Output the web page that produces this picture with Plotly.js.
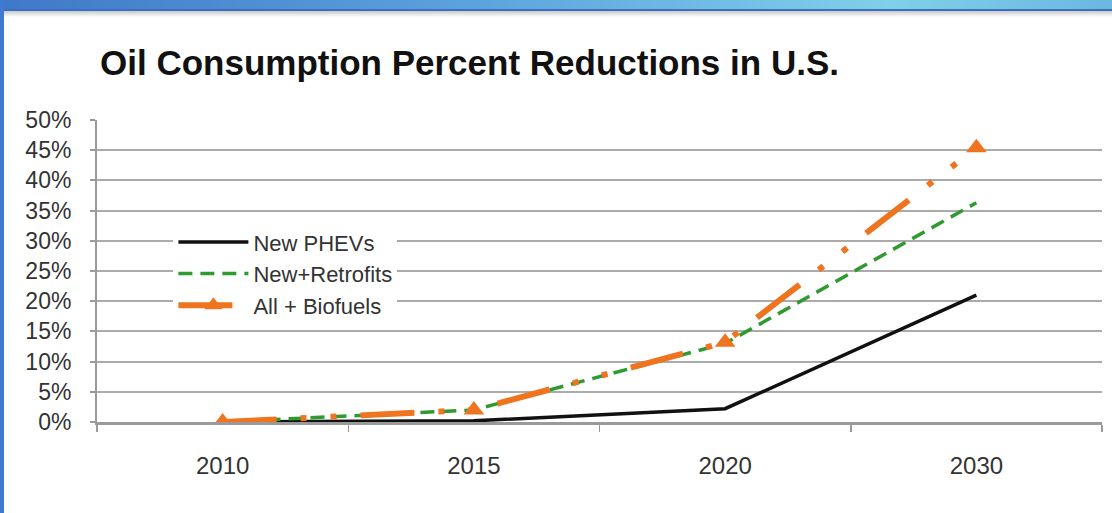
<!DOCTYPE html>
<html>
<head>
<meta charset="utf-8">
<script src="https://cdn.plot.ly/plotly-3.0.1.min.js"></script>
<style>
  html, body { margin: 0; padding: 0; background: #ffffff; }
  #wrap { position: relative; width: 1112px; height: 513px; overflow: hidden; }
  #chart { position: absolute; left: 0; top: 0; width: 1112px; height: 513px; }
  #topbar { position: absolute; left: 0; top: 0; width: 1112px; height: 9px;
            background: linear-gradient(to right, #3f78c8 0%, #5aa0dc 40%, #7fd0ea 80%, #6ab8e0 100%);
            border-bottom: 2px solid #3a6fc0; pointer-events: none; }
  #topshadow { position: absolute; left: 0; top: 11px; width: 1112px; height: 6px;
            background: linear-gradient(to bottom, #c8c8c8, rgba(255,255,255,0)); pointer-events: none; }
  #leftbar { position: absolute; left: 0; top: 0; width: 4px; height: 513px;
            background: #3f7ad0; pointer-events: none; }
</style>
</head>
<body>
<div id="wrap">
  <div id="chart"></div>
  <div id="topshadow"></div>
  <div id="topbar"></div>
  <div id="leftbar"></div>
</div>
<script>
const years = ["2010", "2015", "2020", "2030"];
const newPHEVs = [0, 0.002, 0.022, 0.21];
const newRetrofits = [0, 0.02, 0.13, 0.363];
const allBiofuels = [0, 0.02, 0.132, 0.454];
const seriesNames = ["New PHEVs", "New+Retrofits", "All + Biofuels"];
const yTicks = [0, 0.05, 0.10, 0.15, 0.20, 0.25, 0.30, 0.35, 0.40, 0.45, 0.50];

const font = "Liberation Sans, Arial, sans-serif";

const traces = [
  {
    x: years, y: newPHEVs, name: seriesNames[0], type: "scatter", mode: "lines",
    line: { color: "#111111", width: 3.5 }
  },
  {
    x: years, y: newRetrofits, name: seriesNames[1], type: "scatter", mode: "lines",
    line: { color: "#2f9a2f", width: 3.5, dash: "14px,8px" }
  },
  {
    x: years, y: allBiofuels, name: seriesNames[2], type: "scatter", mode: "lines+markers",
    line: { color: "#ef7420", width: 6, dash: "54px,24px,6px,24px,6px,24px" },
    marker: { symbol: "triangle-up", size: 18, color: "#ef7420" }
  }
];

const layout = {
  width: 1112, height: 513,
  margin: { l: 97, r: 10, t: 120, b: 91 },
  paper_bgcolor: "#ffffff", plot_bgcolor: "#ffffff",
  font: { family: font, color: "#333333" },
  title: {
    text: "Oil Consumption Percent Reductions in U.S.",
    font: { family: font, size: 35, color: "#111111", weight: "bold" },
    xref: "container", yref: "container",
    x: 100 / 1112, xanchor: "left",
    y: 1 - 63 / 513, yanchor: "middle"
  },
  showlegend: true,
  legend: {
    x: 0.076, y: 0.665, xanchor: "left", yanchor: "top",
    bgcolor: "#ffffff", borderwidth: 0,
    font: { family: font, size: 22, color: "#333333" },
    itemwidth: 70, tracegroupgap: 0
  },
  xaxis: {
    type: "category",
    categoryorder: "array", categoryarray: years,
    range: [-0.5, 3.5],
    showgrid: false, zeroline: false,
    showline: true, linecolor: "#9a9a9a", linewidth: 3,
    ticks: "outside", tickson: "boundaries", ticklen: 7, tickcolor: "#9a9a9a", tickwidth: 1.5,
    ticklabelstandoff: 20,
    tickfont: { family: font, size: 24, color: "#333333" }
  },
  yaxis: {
    range: [0, 0.5],
    tickvals: yTicks, tickformat: ".0%",
    showgrid: true, gridcolor: "#ababab", gridwidth: 2,
    zeroline: false,
    showline: true, linecolor: "#9a9a9a", linewidth: 2,
    ticks: "outside", ticklen: 5, tickcolor: "#9a9a9a", tickwidth: 2,
    ticklabelstandoff: 14,
    tickfont: { family: font, size: 23, color: "#333333" }
  }
};

Plotly.newPlot("chart", traces, layout, { displayModeBar: false, staticPlot: true });
</script>
</body>
</html>
